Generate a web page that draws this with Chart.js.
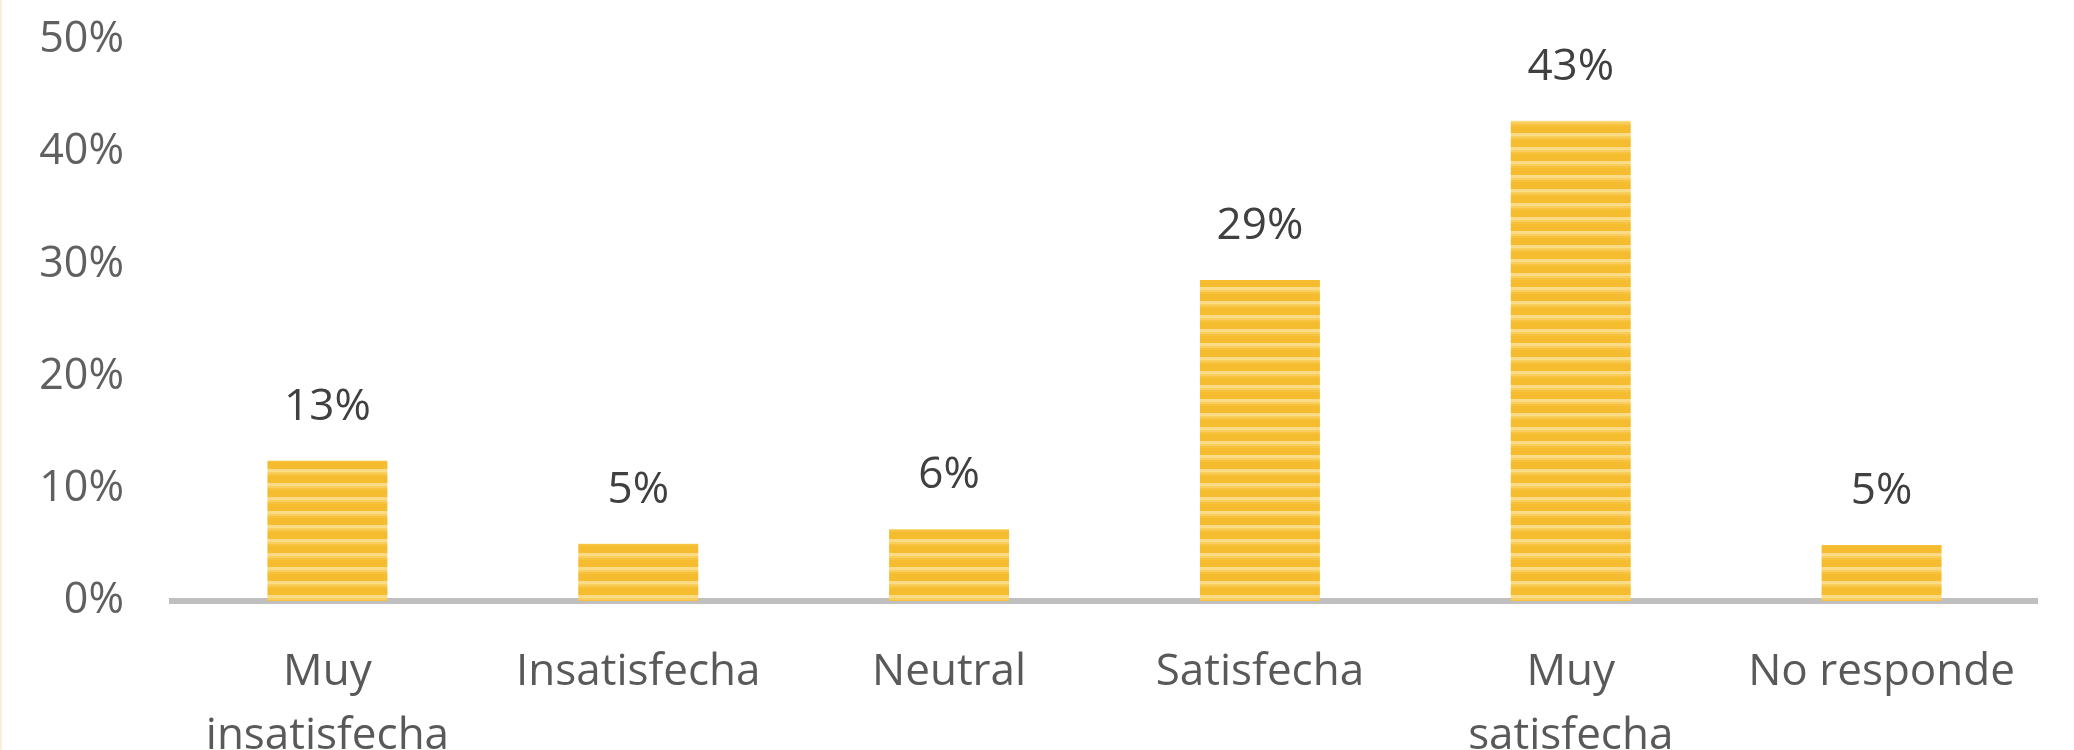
<!DOCTYPE html>
<html>
<head>
<meta charset="utf-8">
<script src="https://cdn.jsdelivr.net/npm/chart.js@4.4.1/dist/chart.umd.min.js"></script>
<style>
  html, body { margin: 0; padding: 0; background: #ffffff; }
  #wrap { position: relative; width: 2074px; height: 750px; }
  #edge { position: absolute; left: 0; top: 0; width: 2px; height: 750px; background: #f6f0dc; }
</style>
</head>
<body>
<div id="wrap">
  <canvas id="c" width="2074" height="750"></canvas>
  <div id="edge"></div>
</div>
<script>
const categories = [['Muy', 'insatisfecha'], 'Insatisfecha', 'Neutral', 'Satisfecha', ['Muy', 'satisfecha'], 'No responde'];
const values = [12.5, 5.1, 6.4, 28.6, 42.8, 5.0];
const valueLabels = ['13%', '5%', '6%', '29%', '43%', '5%'];
const yTickValues = [0, 10, 20, 30, 40, 50];

function makePattern(ctx) {
  const pc = document.createElement('canvas');
  pc.width = 8; pc.height = 14;
  const p = pc.getContext('2d');
  p.fillStyle = '#F6BC30'; p.fillRect(0, 0, 8, 14);
  p.fillStyle = '#FCDB86'; p.fillRect(0, 7, 8, 3);
  p.fillStyle = '#F9CD5E'; p.fillRect(0, 10, 8, 2);
  p.fillStyle = '#F7C23E'; p.fillRect(0, 12, 8, 2);
  return ctx.createPattern(pc, 'repeat');
}

const FONT = '"Open Sans", sans-serif';

const valueLabelPlugin = {
  id: 'valueLabels',
  afterDatasetsDraw(chart) {
    const ctx = chart.ctx;
    const meta = chart.getDatasetMeta(0);
    ctx.save();
    ctx.font = '44px ' + FONT;
    ctx.fillStyle = '#404040';
    ctx.textAlign = 'center';
    ctx.textBaseline = 'alphabetic';
    meta.data.forEach((bar, i) => {
      ctx.fillText(valueLabels[i], bar.x, bar.y - 41);
    });
    ctx.restore();
  }
};

function build() {
  const canvas = document.getElementById('c');
  const ctx = canvas.getContext('2d');
  new Chart(ctx, {
    type: 'bar',
    data: {
      labels: categories,
      datasets: [{
        data: values,
        backgroundColor: makePattern(ctx),
        borderWidth: 0,
        barPercentage: 1.0,
        categoryPercentage: 0.386
      }]
    },
    options: {
      responsive: false,
      animation: false,
      devicePixelRatio: 1,
      layout: { padding: { top: 40, right: 37, left: 0, bottom: 0 } },
      plugins: { legend: { display: false }, tooltip: { enabled: false } },
      scales: {
        x: {
          z: 1,
          grid: { display: false, drawTicks: false },
          border: { display: true, color: '#bfbfbf', width: 6 },
          ticks: {
            color: '#595959',
            font: { family: FONT, size: 44, lineHeight: 1.46 },
            padding: 39,
            maxRotation: 0,
            autoSkip: false
          },
          afterFit(scale) { scale.height = 149; scale.paddingLeft = 0; scale.paddingRight = 0; }
        },
        y: {
          min: 0,
          max: 50,
          afterBuildTicks(scale) { scale.ticks = yTickValues.map(v => ({ value: v })); },
          grid: { display: false, drawTicks: false },
          border: { display: false },
          ticks: {
            color: '#606060',
            font: { family: FONT, size: 43 },
            padding: 48,
            callback: v => v + '%'
          },
          afterFit(scale) { scale.width = 172; scale.paddingTop = 0; scale.paddingBottom = 0; }
        }
      }
    },
    plugins: [valueLabelPlugin]
  });
}

if (document.fonts && document.fonts.load) {
  document.fonts.load('44px "Open Sans"').then(build, build);
} else {
  build();
}
</script>
</body>
</html>
